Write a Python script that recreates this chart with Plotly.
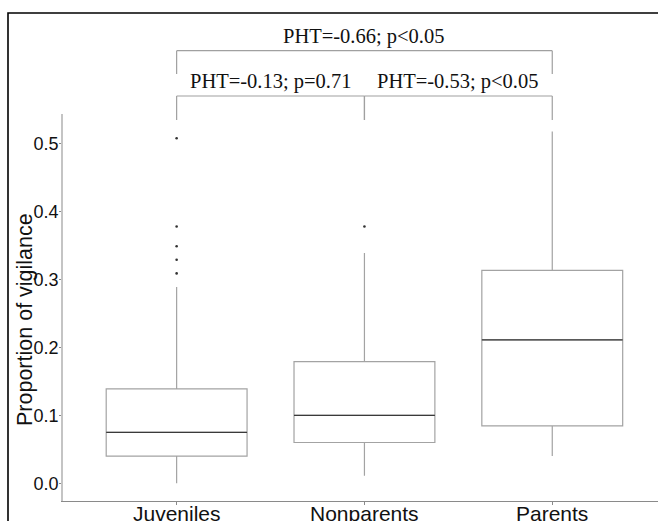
import plotly.graph_objects as go

categories = ["Juveniles", "Nonparents", "Parents"]
q1 = [0.040, 0.060, 0.0845]
median = [0.075, 0.100, 0.211]
q3 = [0.139, 0.179, 0.3136]
lowerfence = [0.000, 0.011, 0.040]
upperfence = [0.289, 0.339, 0.518]
outliers = {
    "Juveniles": [0.508, 0.378, 0.349, 0.329, 0.309],
    "Nonparents": [0.378],
    "Parents": [],
}
y_ticks = [0.0, 0.1, 0.2, 0.3, 0.4, 0.5]
comparisons = [
    # (from index, to index, label, level)
    (0, 2, "PHT=-0.66; p<0.05", "top"),
    (0, 1, "PHT=-0.13; p=0.71", "low"),
    (1, 2, "PHT=-0.53; p<0.05", "low"),
]

BOX_W = 0.75
xs = list(range(len(categories)))
box_col = "#a3a3a3"
med_col = "#3a3a3a"

fig = go.Figure()
fig.add_trace(go.Box(
    x=xs, q1=q1, median=median, q3=q3,
    lowerfence=lowerfence, upperfence=upperfence,
    width=BOX_W, whiskerwidth=0, boxpoints=False,
    fillcolor="white", line=dict(color=box_col, width=1.2),
    showlegend=False, hoverinfo="skip",
))

mx, my = [], []
for i, m in zip(xs, median):
    mx += [i - BOX_W / 2, i + BOX_W / 2, None]
    my += [m, m, None]
fig.add_trace(go.Scatter(x=mx, y=my, mode="lines",
                         line=dict(color=med_col, width=1.2),
                         showlegend=False, hoverinfo="skip"))

ox, oy = [], []
for i, c in enumerate(categories):
    for v in outliers[c]:
        ox.append(i)
        oy.append(v)
fig.add_trace(go.Scatter(x=ox, y=oy, mode="markers",
                         marker=dict(color="#333333", size=2.6),
                         showlegend=False, hoverinfo="skip"))

H, PT, PB = 521, 114, 501
L = 63
PW = 658 - L

def py(pix):
    return (PB - pix) / (PB - PT)

def px(pix):
    return (pix - L) / PW

shapes = []
line_c = "#a0a0a0"
for a, b, lab, lev in comparisons:
    if lev == "top":
        yh, yv = py(50.7), py(74)
        ty = py(36.5)
    else:
        yh, yv = py(96), py(120)
        ty = py(82)
    shapes.append(dict(type="line", xref="x", yref="paper", x0=a, x1=b, y0=yh, y1=yh,
                       line=dict(color=line_c, width=1.2)))
    for xv in (a, b):
        shapes.append(dict(type="line", xref="x", yref="paper", x0=xv, x1=xv, y0=yh, y1=yv,
                           line=dict(color=line_c, width=1.2)))
    fig.add_annotation(x=(a + b) / 2, y=ty, xref="x", yref="paper", text=lab,
                       showarrow=False, xanchor="center", yanchor="middle",
                       font=dict(family="Liberation Serif", size=20.5, color="#111111"))

# category labels (x axis), partly cut by the bottom edge as in the reference
for i, c in zip(xs, categories):
    fig.add_annotation(x=i, y=py(513), xref="x", yref="paper", text=c,
                       showarrow=False, xanchor="center", yanchor="middle",
                       font=dict(family="Liberation Sans", size=21, color="#111111"))

# outer black frame
shapes.append(dict(type="rect", xref="paper", yref="paper",
                   x0=px(8), x1=1.1, y0=-0.2, y1=py(13),
                   line=dict(color="black", width=1.6), fillcolor="rgba(0,0,0,0)", layer="below"))

fig.add_annotation(x=px(25), y=py(320), xref="paper", yref="paper",
                   text="Proportion of vigilance", textangle=-90, showarrow=False,
                   xanchor="center", yanchor="middle",
                   font=dict(family="Liberation Sans", size=21.5, color="#111111"))

fig.update_layout(
    width=658, height=H,
    margin=dict(l=L, r=0, t=PT, b=H - PB, autoexpand=False),
    plot_bgcolor="white", paper_bgcolor="white",
    shapes=shapes,
    showlegend=False,
)
fig.update_xaxes(
    range=[-0.605, 2.563], tickvals=xs, ticktext=categories, showticklabels=False,
    showgrid=False, zeroline=False, automargin=False,
    showline=True, linecolor="#8a8a8a", linewidth=1.2,
    ticks="outside", ticklen=3, tickcolor="#8a8a8a",
)
fig.update_yaxes(
    range=[-0.0261, 0.5437], tickvals=y_ticks, ticktext=[f"{v:.1f}" for v in y_ticks],
    showgrid=False, zeroline=False, automargin=False,
    showline=True, linecolor="#c4c4c4", linewidth=1.6,
    ticks="outside", ticklen=2, tickcolor="#8a8a8a",
    ticklabelstandoff=-3,
    tickfont=dict(family="Liberation Sans", size=18, color="#111111"),
)

fig.write_html(
    "out.html",
    config={"displayModeBar": False},
    post_script="document.body.style.margin='0';document.body.style.overflow='hidden';",
)
